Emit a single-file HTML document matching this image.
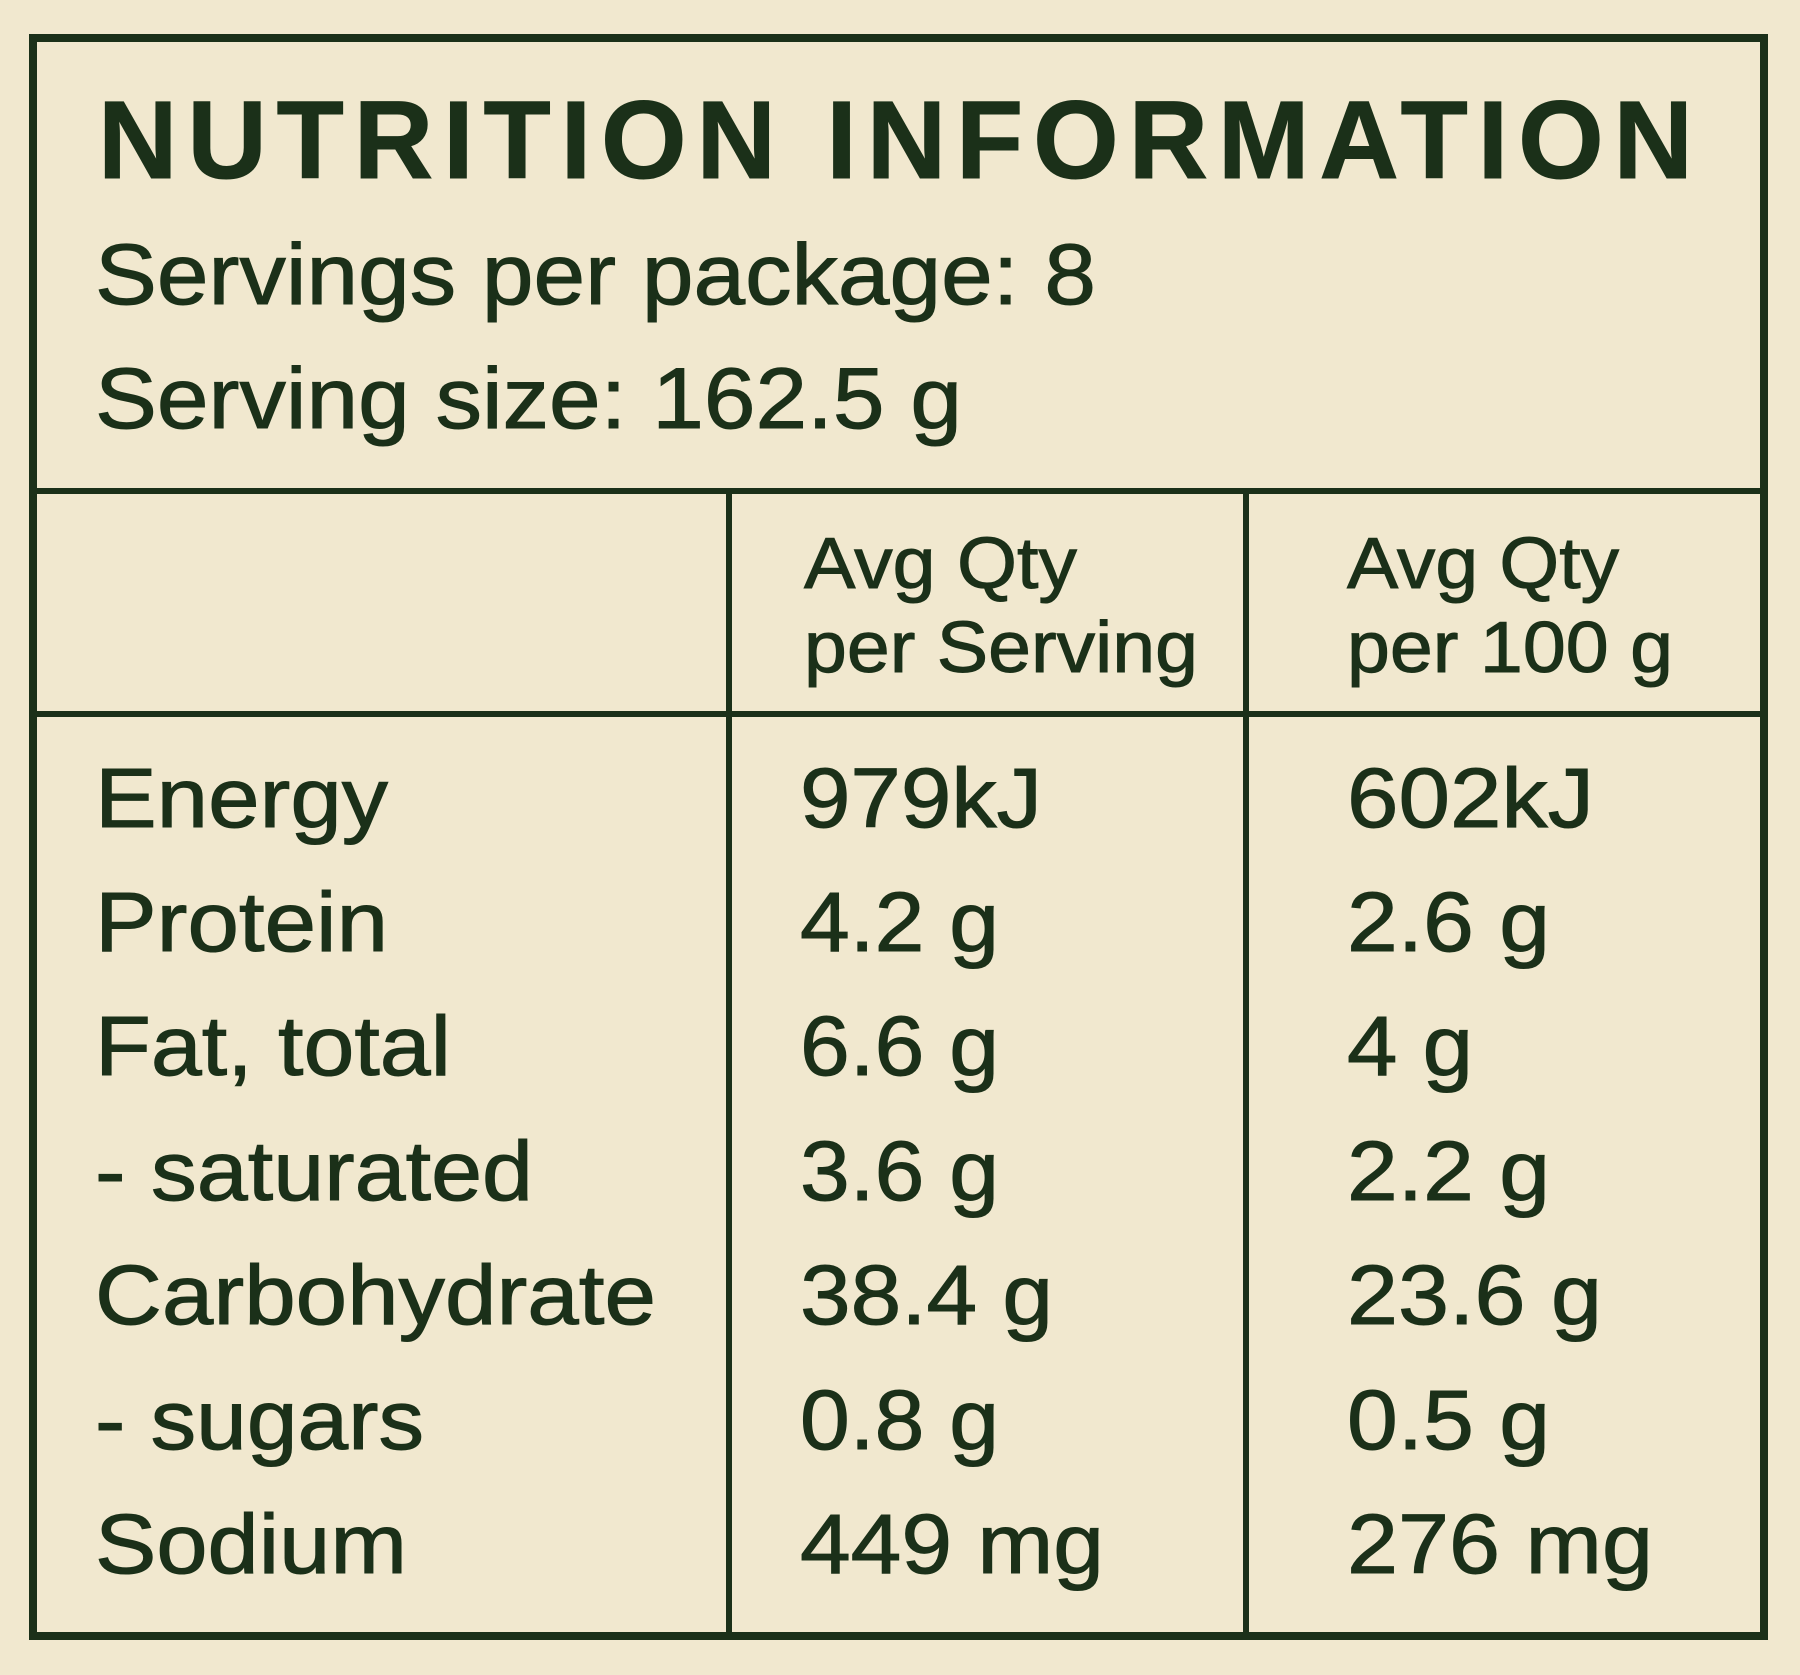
<!DOCTYPE html>
<html><head><meta charset="utf-8"><style>
html,body{margin:0;padding:0;background:#f1e8cf;}
svg{display:block}
text{font-family:"Liberation Sans",sans-serif;fill:#1b3019;stroke:#1b3019;stroke-width:1}
</style></head><body>
<svg width="1800" height="1675" viewBox="0 0 1800 1675" xmlns="http://www.w3.org/2000/svg">
<rect width="1800" height="1675" fill="#f1e8cf"/>
<rect x="33" y="38" width="1731" height="1598" fill="none" stroke="#1b3019" stroke-width="8"/>
<line x1="33" y1="491" x2="1764" y2="491" stroke="#1b3019" stroke-width="6"/>
<line x1="33" y1="714" x2="1764" y2="714" stroke="#1b3019" stroke-width="6"/>
<line x1="729" y1="491" x2="729" y2="1636" stroke="#1b3019" stroke-width="6"/>
<line x1="1246" y1="491" x2="1246" y2="1636" stroke="#1b3019" stroke-width="6"/>
<text x="98" y="178" font-size="110" font-weight="bold" textLength="1595" lengthAdjust="spacing">NUTRITION INFORMATION</text>
<text x="95" y="304" font-size="86" textLength="1001" lengthAdjust="spacingAndGlyphs">Servings per package: 8</text>
<text x="95" y="428" font-size="86" textLength="867" lengthAdjust="spacingAndGlyphs">Serving size: 162.5 g</text>
<g font-size="72">
<text x="804" y="588" textLength="273" lengthAdjust="spacingAndGlyphs">Avg Qty</text>
<text x="804" y="672" textLength="394" lengthAdjust="spacingAndGlyphs">per Serving</text>
<text x="1347" y="588" textLength="272" lengthAdjust="spacingAndGlyphs">Avg Qty</text>
<text x="1347" y="672" textLength="326" lengthAdjust="spacingAndGlyphs">per 100 g</text>
</g>
<g font-size="84">
<text x="95" y="827" textLength="293" lengthAdjust="spacingAndGlyphs">Energy</text>
<text x="95" y="951" textLength="293" lengthAdjust="spacingAndGlyphs">Protein</text>
<text x="95" y="1075" textLength="356" lengthAdjust="spacingAndGlyphs">Fat, total</text>
<text x="95" y="1200" textLength="438" lengthAdjust="spacingAndGlyphs">- saturated</text>
<text x="95" y="1324" textLength="561" lengthAdjust="spacingAndGlyphs">Carbohydrate</text>
<text x="95" y="1449" textLength="329" lengthAdjust="spacingAndGlyphs">- sugars</text>
<text x="95" y="1573" textLength="312" lengthAdjust="spacingAndGlyphs">Sodium</text>

<text x="800" y="827" textLength="242" lengthAdjust="spacingAndGlyphs">979kJ</text>
<text x="800" y="951" textLength="199" lengthAdjust="spacingAndGlyphs">4.2 g</text>
<text x="800" y="1075" textLength="199" lengthAdjust="spacingAndGlyphs">6.6 g</text>
<text x="800" y="1200" textLength="199" lengthAdjust="spacingAndGlyphs">3.6 g</text>
<text x="800" y="1324" textLength="253" lengthAdjust="spacingAndGlyphs">38.4 g</text>
<text x="800" y="1449" textLength="199" lengthAdjust="spacingAndGlyphs">0.8 g</text>
<text x="800" y="1573" textLength="304" lengthAdjust="spacingAndGlyphs">449 mg</text>

<text x="1347" y="827" textLength="247" lengthAdjust="spacingAndGlyphs">602kJ</text>
<text x="1347" y="951" textLength="203" lengthAdjust="spacingAndGlyphs">2.6 g</text>
<text x="1347" y="1075" textLength="126" lengthAdjust="spacingAndGlyphs">4 g</text>
<text x="1347" y="1200" textLength="203" lengthAdjust="spacingAndGlyphs">2.2 g</text>
<text x="1347" y="1324" textLength="255" lengthAdjust="spacingAndGlyphs">23.6 g</text>
<text x="1347" y="1449" textLength="203" lengthAdjust="spacingAndGlyphs">0.5 g</text>
<text x="1347" y="1573" textLength="306" lengthAdjust="spacingAndGlyphs">276 mg</text>
</g>
</svg>
</body></html>
